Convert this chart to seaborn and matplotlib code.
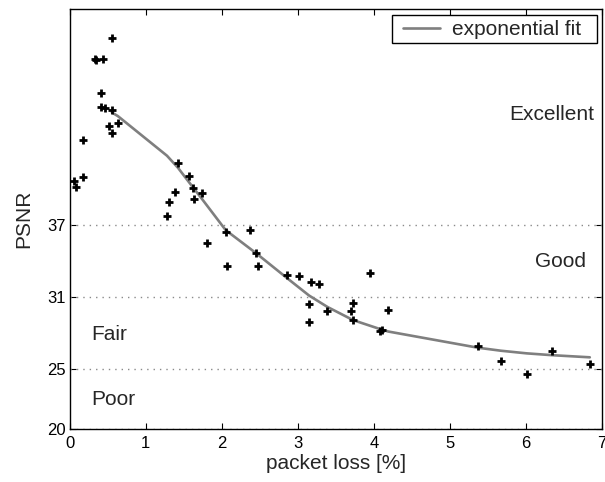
import matplotlib
matplotlib.use("Agg")
import matplotlib.pyplot as plt
from matplotlib.patches import Rectangle
import seaborn as sns
import pandas as pd

# Measured points (packet loss %, PSNR)
loss = [0.053, 0.079, 0.175, 0.175, 0.329, 0.342, 0.417, 0.417, 0.439, 0.469,
        0.518, 0.557, 0.557, 0.557, 0.636, 1.281, 1.307, 1.382, 1.425, 1.570,
        1.623, 1.636, 1.741, 1.807, 2.053, 2.070, 2.377, 2.456, 2.483, 2.860,
        3.013, 3.149, 3.154, 3.175, 3.276, 3.390, 3.700, 3.728, 3.728, 3.947,
        4.080, 4.114, 4.190, 5.370, 5.670, 6.010, 6.340, 6.840]
psnr = [40.69, 40.22, 44.11, 41.00, 50.83, 50.78, 48.00, 46.89, 50.83, 46.75,
        45.28, 52.58, 46.61, 44.66, 45.50, 37.78, 38.94, 39.80, 42.22, 41.11,
        40.14, 39.22, 39.72, 35.54, 36.42, 33.61, 36.59, 34.71, 33.61, 32.87,
        32.79, 28.95, 30.44, 32.31, 32.09, 29.88, 29.88, 30.49, 29.12, 33.06,
        28.20, 28.26, 29.96, 26.97, 25.69, 24.60, 26.55, 25.44]

# Exponential fit curve
fit_x = [0.557, 0.636, 1.281, 1.425, 1.570, 1.741, 2.053, 2.456, 2.860, 3.149,
         3.390, 3.728, 4.080, 4.190, 5.370, 5.670, 6.010, 6.340, 6.840]
fit_y = [46.40, 46.10, 42.80, 41.80, 40.60, 39.20, 36.60, 34.66, 32.60, 31.15,
         30.20, 29.10, 28.36, 28.15, 26.80, 26.55, 26.33, 26.18, 26.00]

quality_levels = [20, 25, 31, 37]
x_ticks = [0, 1, 2, 3, 4, 5, 6, 7]
region_labels = ["Excellent", "Good", "Fair", "Poor"]

pts = pd.DataFrame({"loss": loss, "psnr": psnr})
fit = pd.DataFrame({"loss": fit_x, "psnr": fit_y})

sns.set_style("ticks")
plt.rcParams["font.family"] = ["Liberation Sans", "DejaVu Sans"]

fig = plt.figure(figsize=(6.05, 4.82), dpi=100)
ax = fig.add_axes([0.1149, 0.1093, 0.995 - 0.1149, 0.9807 - 0.1093])

for lv in quality_levels:
    ax.axhline(lv, color="#8a8a8a", lw=1.0, ls=(0, (1, 3.6)), zorder=1)

sns.lineplot(data=fit, x="loss", y="psnr", ax=ax, color="#7f7f7f", lw=1.9,
             label="exponential fit", sort=False, zorder=2)
sns.scatterplot(data=pts, x="loss", y="psnr", ax=ax, marker="+", s=40,
                color="black", linewidth=2.0, legend=False, zorder=3)

ax.set_xlim(0, 7)
ax.set_ylim(20, 55)
ax.set_xticks(x_ticks)
ax.set_yticks(quality_levels)
ax.set_xlabel("packet loss [%]", fontsize=15, labelpad=2)
ax.set_ylabel("PSNR", fontsize=15, labelpad=10)
ax.tick_params(direction="in", length=4, width=0.8, labelsize=12,
               top=True, right=True, colors="black")
ax.tick_params(axis="x", pad=5)
ax.tick_params(axis="y", pad=2.5)
for sp in ax.spines.values():
    sp.set_visible(True)
    sp.set_color("black")
    sp.set_linewidth(1.0)

ax.text(6.9, 46.2, region_labels[0], fontsize=15, ha="right", va="center")
ax.text(6.79, 34.0, region_labels[1], fontsize=15, ha="right", va="center")
ax.text(0.28, 27.9, region_labels[2], fontsize=15, ha="left", va="center")
ax.text(0.28, 22.5, region_labels[3], fontsize=15, ha="left", va="center")

# legend: content without frame, frame drawn as rectangle (wider side padding)
leg = ax.legend(loc="center left", bbox_to_anchor=(0.626, 0.951),
                fontsize=15, frameon=False, borderpad=0, borderaxespad=0,
                handlelength=1.78, handletextpad=0.56)
ax.add_patch(Rectangle((0.605, 0.919), 0.385, 0.067, transform=ax.transAxes,
                       facecolor="white", edgecolor="black", lw=1.0,
                       zorder=4, clip_on=False))
leg.set_zorder(5)

fig.savefig("out.png", dpi=100)
